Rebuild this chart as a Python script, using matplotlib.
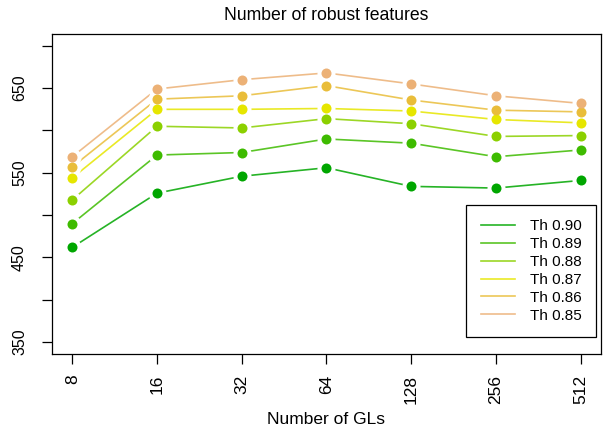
import matplotlib
matplotlib.use("Agg")
import matplotlib.pyplot as plt
import numpy as np

plt.rcParams['font.family'] = ['Liberation Sans', 'DejaVu Sans']

gl_labels = ["8", "16", "32", "64", "128", "256", "512"]
series_names = ["Th 0.90", "Th 0.89", "Th 0.88", "Th 0.87", "Th 0.86", "Th 0.85"]
th090 = [462, 526, 546, 556, 534, 532, 541]
th089 = [490, 571, 574, 590, 585, 569, 577]
th088 = [518, 605, 603, 614, 608, 593, 594]
th087 = [544, 625, 625, 626, 623, 613, 609]
th086 = [557, 637, 641, 653, 636, 624, 622]
th085 = [569, 649, 660, 668, 655, 641, 632]
colors = ["#00A600", "#3EBB00", "#8BD000", "#E6E600", "#E9BD3A", "#ECB176"]

series = [th090, th089, th088, th087, th086, th085]

fig = plt.figure(figsize=(6.03, 4.30), dpi=100)
ax = fig.add_axes([0.0862, 0.1767, 0.9105, 0.7443])

x = np.arange(1, len(gl_labels) + 1)
for vals, col, name in zip(series, colors, series_names):
    ax.plot(x, vals, color=col, lw=1.2, alpha=0.85, label=name, zorder=2)
# white halo to mimic R's type="b" gaps
for vals in series:
    ax.plot(x, vals, 'o', color='white', ms=13, mew=0, zorder=3)
for vals, col in zip(series, colors):
    ax.plot(x, vals, 'o', color=col, ms=7.2, mew=0, zorder=4)

ax.set_xlim(0.76, 7.24)
ax.set_ylim(336, 714)

ax.set_xticks(x)
ax.set_xticklabels(gl_labels, rotation=90, fontsize=12.5)
yt = np.arange(350, 701, 50)
ax.set_yticks(yt)
ax.set_yticklabels([str(v) if v % 100 == 50 else "" for v in yt], rotation=90,
                   va='center', fontsize=11.5)
ax.tick_params(length=7, width=0.9, direction='out')
ax.tick_params(axis='y', pad=11)
ax.tick_params(axis='x', pad=8)

for s in ax.spines.values():
    s.set_linewidth(0.9)
    s.set_color('black')

ax.set_title("Number of robust features", fontsize=12.7, pad=10)
ax.set_xlabel("Number of GLs", fontsize=12.5, labelpad=6)

leg = ax.legend(loc='lower right', bbox_to_anchor=(0.991, 0.053), fontsize=11,
                fancybox=False, framealpha=1, edgecolor='black',
                handlelength=2.2, handletextpad=1.0, labelspacing=0.25,
                borderpad=0.95, borderaxespad=0)
leg.get_frame().set_linewidth(0.9)

fig.savefig("out.png", dpi=100)
